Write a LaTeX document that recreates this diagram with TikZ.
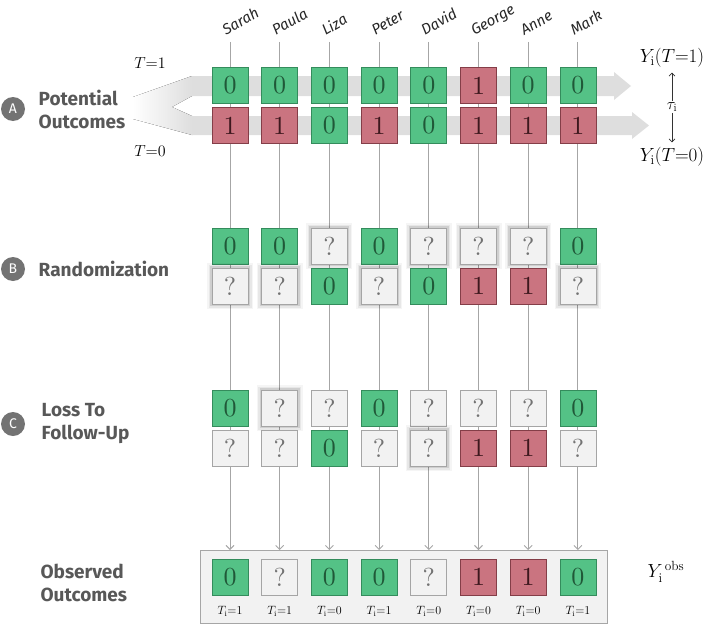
\RequirePackage{fix-cm}
\documentclass[tikz,border=0pt]{standalone}
\usepackage{fontspec}
\newfontfamily\firafont{Fira Sans}
\newfontfamily\digitfont{lmroman10-regular.otf}
\usetikzlibrary{shapes, arrows, arrows.meta, positioning}

\definecolor{okgreen}{RGB}{84,194,134}
\definecolor{okgreenline}{RGB}{52,140,92}
\definecolor{okgreentext}{RGB}{32,88,56}
\definecolor{badred}{RGB}{202,116,128}
\definecolor{badredline}{RGB}{132,62,72}
\definecolor{badredtext}{RGB}{62,24,30}
\definecolor{unkfill}{RGB}{242,242,242}
\definecolor{unkline}{RGB}{165,165,165}
\definecolor{labelgray}{RGB}{88,88,88}
\definecolor{bandgray}{RGB}{222,222,222}

\tikzstyle{cell} = [rectangle, minimum width=36pt, minimum height=36pt, inner sep=0pt, line width=0.8pt, font=\digitfont\fontsize{26}{28}\selectfont]
\tikzstyle{okbox} = [cell, fill=okgreen, draw=okgreenline, text=okgreentext]
\tikzstyle{badbox} = [cell, fill=badred, draw=badredline, text=badredtext]
\tikzstyle{unkbox} = [cell, fill=unkfill, draw=unkline, text=black!55]
\tikzstyle{unkglow} = [unkbox, preaction={draw=black, opacity=0.04, line width=10pt}, preaction={draw=black, opacity=0.06, line width=7pt}, preaction={draw=black, opacity=0.1, line width=4pt}]
\tikzstyle{who} = [inner sep=0pt, text=black!85, font=\firafont\itshape\fontsize{15}{17}\selectfont]
\tikzstyle{stage} = [align=left, text=labelgray, font=\firafont\bfseries\fontsize{19}{23}\selectfont]
\tikzstyle{badge} = [circle, fill=black!55, text=white, minimum size=24pt, inner sep=0pt, font=\firafont\fontsize{14}{14}\selectfont]
\tikzstyle{maths} = [inner sep=1pt, font=\fontsize{19}{21}\selectfont]
\tikzstyle{armlab} = [inner sep=1pt, font=\fontsize{16}{18}\selectfont]
\tikzstyle{tlab} = [inner sep=1pt, font=\fontsize{12}{14}\selectfont]
\tikzstyle{vline} = [draw=black!35, line width=0.9pt, -{Straight Barb[length=4pt, width=8pt]}]
\tikzstyle{edge} = [black!80, line width=0.6pt, -{Straight Barb[length=3pt, width=6pt]}]

\begin{document}
\begin{tikzpicture}[x=1pt, y=-1pt]
\useasboundingbox (0,0) rectangle (708,626);

% grey bands of the two potential outcomes
\fill[left color=white, middle color=bandgray, right color=bandgray, draw=none] (133,97) -- (192,76) -- (192,96) -- (172,107) -- (192,116) -- (192,135) -- (133,119) -- cycle;
\fill[bandgray] (192,76) -- (614,76) -- (614,72) -- (631,86) -- (614,100) -- (614,96) -- (192,96) -- cycle;
\fill[bandgray] (192,116) -- (632,116) -- (632,112) -- (649,125.5) -- (632,139) -- (632,135) -- (192,135) -- cycle;

\node (obsframe) [rectangle, fill=unkfill, draw=black!35, line width=0.8pt, minimum width=407pt, minimum height=73pt] at (403.5,586.5) {};

% units
\foreach \who [count=\c] in {Sarah,Paula,Liza,Peter,David,George,Anne,Mark} {
  \coordinate (top-\c) at ({230+49.7*(\c-1)},42);
  \coordinate (end-\c) at ({230+49.7*(\c-1)},550);
  \node (name-\c) [who, rotate=30, anchor=base west] at ({226+49.7*(\c-1)},36) {\who};
}
\foreach \c in {1,...,8}
  \draw [vline] (top-\c) -- (end-\c);

\foreach \row/\ypos/\cells in {
  a1/85.5/{okbox/0,okbox/0,okbox/0,okbox/0,okbox/0,badbox/1,okbox/0,okbox/0},
  a0/125.5/{badbox/1,badbox/1,okbox/0,badbox/1,okbox/0,badbox/1,badbox/1,badbox/1},
  b1/246/{okbox/0,okbox/0,unkglow/?,okbox/0,unkglow/?,unkglow/?,unkglow/?,okbox/0},
  b0/286/{unkglow/?,unkglow/?,okbox/0,unkglow/?,okbox/0,badbox/1,badbox/1,unkglow/?},
  c1/408/{okbox/0,unkglow/?,unkbox/?,okbox/0,unkbox/?,unkbox/?,unkbox/?,okbox/0},
  c0/448/{unkbox/?,unkbox/?,okbox/0,unkbox/?,unkglow/?,badbox/1,badbox/1,unkbox/?},
  obs/577/{okbox/0,unkbox/?,okbox/0,okbox/0,unkbox/?,badbox/1,badbox/1,okbox/0}}
  \foreach \kind/\val [count=\c] in \cells
    \node (\row-\c) [\kind] at ({230+49.7*(\c-1)},\ypos) {\val};

\foreach \tv [count=\c] in {1,1,0,1,0,0,0,1}
  \node (t-\c) [tlab] at ({230+49.7*(\c-1)},611) {$T_{\mathrm{i}}{=}\tv$};

% stage labels
\node (badgeA) [badge] at (13,109) {A};
\node (stageA) [stage, right=10pt of badgeA] {Potential\\Outcomes};
\node (badgeB) [badge] at (13,269) {B};
\node (stageB) [stage, right=10pt of badgeB] {Randomization};
\node (badgeC) [badge] at (13,424) {C};
\node (stageC) [stage, right=13pt of badgeC] {Loss To\\Follow-Up};
\node (stageD) [stage, anchor=west] at (37,583) {Observed\\Outcomes};

\node (arm1) [armlab] at (150,63) {$T{=}1$};
\node (arm0) [armlab] at (150,151) {$T{=}0$};

% right hand side
\node (y1) [maths] at (672,58) {$Y_{\mathrm{i}}(T{=}1)$};
\node (y0) [maths] at (672,157) {$Y_{\mathrm{i}}(T{=}0)$};
\node (tau) [armlab] at (672,107) {$\tau_{\mathrm{i}}$};
\draw [edge, shorten >=4pt] (tau) -- (y1);
\draw [edge, shorten >=4pt] (tau) -- (y0);
\node (yobs) [maths] at (666,572) {$Y_{\mathrm{i}}^{\,\mathrm{obs}}$};

\end{tikzpicture}
\end{document}
